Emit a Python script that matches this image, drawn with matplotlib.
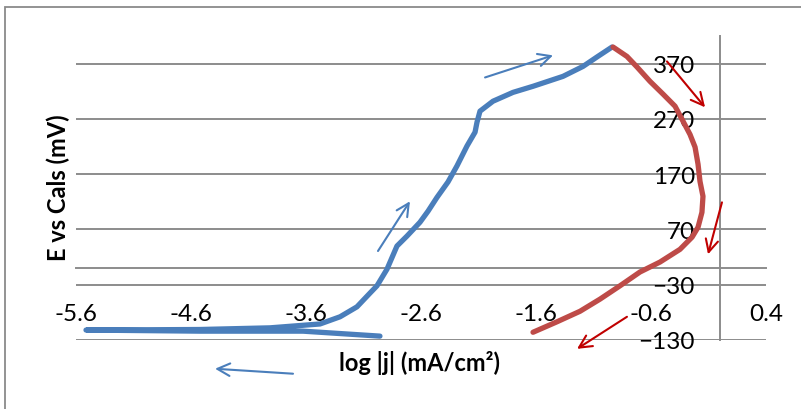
import matplotlib
matplotlib.use("Agg")
import matplotlib.pyplot as plt
from matplotlib.patches import Rectangle

# anodic sweep (blue): log|j| and E
blue_logj = [-2.957, -3.626, -4.522, -5.513, -4.522, -3.913, -3.478, -3.304,
             -3.157, -3.043, -2.983, -2.896, -2.809, -2.722, -2.609, -2.539,
             -2.461, -2.365, -2.287, -2.200, -2.130, -2.113, -2.087, -1.974,
             -1.800, -1.626, -1.365, -1.191, -1.070, -0.939]
blue_E = [-123, -114, -114, -112, -111, -108, -101, -88,
          -70, -45, -32, -2, 40, 58, 83, 103,
          128, 156, 185, 221, 246, 264, 284, 302,
          318, 329, 347, 365, 382, 400]

# reverse sweep (red)
red_logj = [-0.930, -0.809, -0.722, -0.609, -0.496, -0.391, -0.322, -0.261,
            -0.217, -0.191, -0.174, -0.148, -0.157, -0.191, -0.243, -0.348,
            -0.522, -0.696, -0.870, -1.043, -1.217, -1.417, -1.626]
red_E = [400, 383, 364, 338, 315, 293, 266, 242,
         219, 188, 157, 130, 101, 74, 56, 34,
         11, -7, -32, -56, -78, -97, -116]

# sweep-direction arrows: (tail_x, tail_y, head_x, head_y)
blue_arrows = [(-3.713, -191, -4.391, -182),
               (-2.974, 31, -2.696, 121),
               (-2.043, 345, -1.452, 385)]
red_arrows = [(-0.461, 374, -0.130, 291),
              (0.017, 119, -0.104, 25),
              (-0.809, -88, -1.243, -146)]

x_ticks = [-5.6, -4.6, -3.6, -2.6, -1.6, -0.6, 0.4]
y_ticks = [-130, -30, 70, 170, 270, 370]

BLUE = "#4a7ebb"
RED = "#be4b48"
ARROW_RED = "#c00000"
GRID = "#8c8c8c"

plt.rcParams["font.family"] = ["Lato", "DejaVu Sans"]

W, H = 801, 410
fig = plt.figure(figsize=(W / 100, H / 100), dpi=100)
fig.patches.append(Rectangle((5 / W, -0.1), 1.2, (H - 8) / H + 0.1,
                             transform=fig.transFigure, fill=False,
                             edgecolor="#8a8a8a", linewidth=1.3))

ax = fig.add_axes([76 / W, (H - 341) / H, 690 / W, 304 / H])
ax.set_xlim(-5.6, 0.4)
ax.set_ylim(-130, 420)

for v in y_ticks:
    ax.axhline(v, color=GRID, lw=1.4, zorder=1)

for s in ("top", "right"):
    ax.spines[s].set_visible(False)
ax.spines["left"].set_position(("data", 0))
ax.spines["bottom"].set_position(("data", 0))
for s in ("left", "bottom"):
    ax.spines[s].set_color(GRID)
    ax.spines[s].set_linewidth(1.4)
    ax.spines[s].set_zorder(1)

ax.set_xticks(x_ticks)
ax.set_xticklabels([f"{v:.1f}" for v in x_ticks])
ax.set_yticks(y_ticks)
ax.tick_params(axis="both", length=0, labelsize=17.5)
ax.tick_params(axis="y", pad=18)
ax.tick_params(axis="x", pad=25)
for lbl in ax.get_yticklabels() + ax.get_xticklabels():
    lbl.set_zorder(4)

ax.plot(blue_logj, blue_E, color=BLUE, lw=3.8, solid_capstyle="round",
        solid_joinstyle="round", zorder=3)
ax.plot(red_logj, red_E, color=RED, lw=3.8, solid_capstyle="round",
        solid_joinstyle="round", zorder=3)

for arrows, col in ((blue_arrows, BLUE), (red_arrows, ARROW_RED)):
    for x0, y0, x1, y1 in arrows:
        ax.annotate("", xy=(x1, y1), xytext=(x0, y0), annotation_clip=False,
                    arrowprops=dict(arrowstyle="->,head_length=0.9,head_width=0.45",
                                    color=col, lw=1.5, shrinkA=0, shrinkB=0),
                    zorder=5)

fig.text(58 / W, 1 - 188 / H, "E vs Cals (mV)", rotation=90, ha="center",
         va="center", fontsize=17, fontweight="bold")
fig.text(420 / W, 1 - 363 / H, "log |j| (mA/cm²)", ha="center", va="center",
         fontsize=17, fontweight="bold")

fig.savefig("out.png", dpi=100)
